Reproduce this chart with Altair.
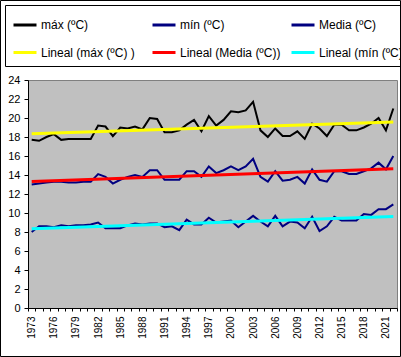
import altair as alt
import pandas as pd

years = list(range(1973, 2023))
maxv = [17.7, 17.6, 18.0, 18.3, 17.7, 17.8, 17.8, 17.8, 17.8, 19.2,
        19.1, 18.1, 19.0, 18.9, 19.1, 18.8, 20.0, 19.9, 18.5, 18.5,
        18.7, 19.3, 19.8, 18.6, 20.2, 19.2, 19.8, 20.7, 20.6, 20.8,
        21.7, 18.7, 18.0, 18.9, 18.1, 18.1, 18.6, 17.8, 19.4, 18.9,
        18.1, 19.3, 19.3, 18.7, 18.7, 19.0, 19.4, 20.0, 18.7, 21.0]
minv = [8.0, 8.6, 8.6, 8.5, 8.7, 8.6, 8.7, 8.7, 8.8, 9.0,
        8.4, 8.4, 8.4, 8.7, 8.9, 8.8, 8.9, 8.9, 8.5, 8.6,
        8.2, 9.3, 8.8, 8.8, 9.5, 9.0, 9.1, 9.2, 8.5, 9.1,
        9.7, 9.1, 8.6, 9.7, 8.6, 9.1, 9.0, 8.4, 9.6, 8.1,
        8.6, 9.6, 9.2, 9.2, 9.2, 9.9, 9.8, 10.4, 10.4, 10.9]
media = [13.0, 13.1, 13.2, 13.3, 13.3, 13.2, 13.2, 13.3, 13.3, 14.1,
         13.8, 13.1, 13.5, 13.8, 14.0, 13.8, 14.5, 14.5, 13.5, 13.5,
         13.5, 14.4, 14.4, 13.8, 14.9, 14.2, 14.5, 14.9, 14.5, 14.9,
         15.7, 13.8, 13.3, 14.4, 13.4, 13.5, 13.8, 13.1, 14.6, 13.5,
         13.3, 14.4, 14.4, 14.1, 14.1, 14.4, 14.7, 15.3, 14.6, 16.0]

series_names = ["máx (ºC)", "mín (ºC)", "Media (ºC)"]
legend_order = ["máx (ºC)", "mín (ºC)", "Media (ºC)",
                "Lineal (máx (ºC) )", "Lineal (Media (ºC))", "Lineal (mín (ºC)"]
legend_colors = ["#000000", "#000080", "#000080", "#FFFF00", "#FF0000", "#00FFFF"]
y_ticks = list(range(0, 25, 2))

rows = []
for name, vals in zip(series_names, [maxv, minv, media]):
    for yr, v in zip(years, vals):
        rows.append({"anio": yr, "valor": v, "serie": name})
df = pd.DataFrame(rows)

x_bounds = [yr - 0.5 for yr in years] + [years[-1] + 0.5]
FONT = "Liberation Sans"

x_enc = alt.X(
    "anio:Q",
    title=None,
    scale=alt.Scale(domain=[years[0] - 0.5, years[-1] + 0.5], nice=False, zero=False),
    axis=alt.Axis(
        values=x_bounds,
        labelExpr="((datum.value - 1972.5) % 3 == 0 && datum.value < 2022) ? toString(datum.value + 0.5) : ''",
        labelAngle=-90, labelOffset=3.7, labelOverlap=False, labelFlush=False,
        labelFontSize=10, labelFont=FONT, labelColor="black", labelPadding=5,
        tickSize=3, tickColor="black", domainColor="black", grid=False,
    ),
)
y_enc = alt.Y(
    "valor:Q",
    title=None,
    scale=alt.Scale(domain=[0, 24], nice=False),
    axis=alt.Axis(
        values=y_ticks, grid=False, tickSize=4, tickColor="black", domainColor="black",
        labelFontSize=11, labelFont=FONT, labelColor="black", labelPadding=4,
    ),
)

legend = alt.Legend(
    title=None, orient="none", legendX=-23, legendY=-75, columns=3, direction="horizontal",
    symbolType="stroke", symbolSize=529, symbolStrokeWidth=3,
    labelFontSize=12, labelFont=FONT, labelColor="black", labelOffset=3, labelLimit=400,
    columnPadding=4, rowPadding=8.5, padding=7, strokeColor="black", gridAlign="all",
)
cscale = alt.Scale(domain=legend_order, range=legend_colors)

base = alt.Chart(df)
lines = base.mark_line(strokeWidth=2).encode(
    x=x_enc, y=y_enc,
    color=alt.Color("serie:N", scale=cscale, legend=legend, sort=legend_order),
)
trend = base.transform_regression("anio", "valor", groupby=["serie"]).transform_calculate(
    tendencia="datum.serie == 'máx (ºC)' ? 'Lineal (máx (ºC) )' : (datum.serie == 'Media (ºC)' ? 'Lineal (Media (ºC))' : 'Lineal (mín (ºC)')"
).mark_line(strokeWidth=3).encode(
    x=x_enc, y=y_enc,
    color=alt.Color("tendencia:N", scale=cscale, legend=legend, sort=legend_order),
)
frame = alt.Chart(alt.Data(values=[{}])).mark_rect(
    fillOpacity=0, stroke="black", strokeWidth=1
).encode(
    x=alt.value(-27.5), x2=alt.value(372.5), y=alt.value(-79.5), y2=alt.value(276.5)
)

chart = alt.layer(lines, trend, frame).properties(
    width=369, height=228,
    autosize=alt.AutoSizeParams(type="none"),
    padding={"left": 28, "top": 80, "right": 4, "bottom": 49},
).configure(font=FONT, background="white").configure_view(
    fill="#C0C0C0", stroke="#808080", strokeWidth=1
)

chart.save("out.html", embed_options={"renderer": "svg", "actions": False})
